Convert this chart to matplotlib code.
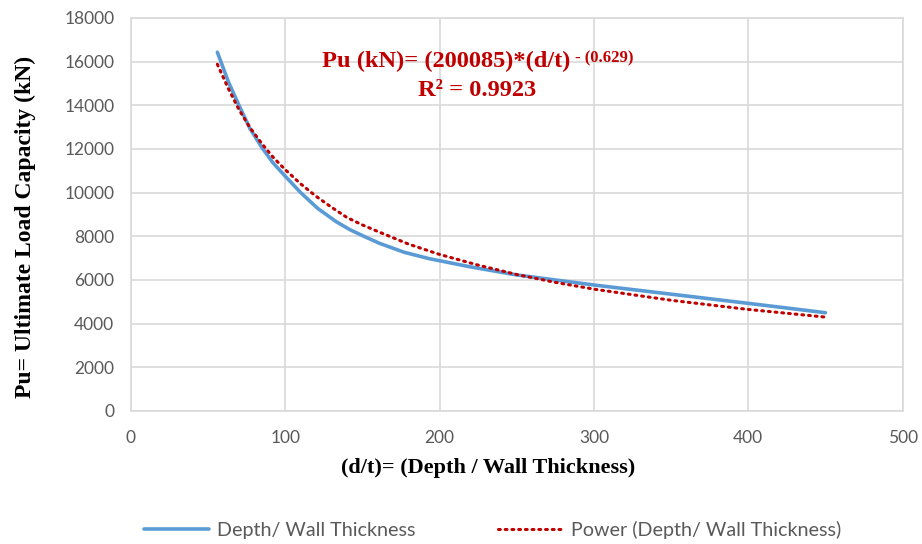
import matplotlib.pyplot as plt

# Depth / wall thickness ratio vs ultimate load
dt_blue = [56, 63, 70, 77, 85, 92, 100, 110, 121, 133, 142, 151, 161, 177, 193, 220, 250, 300, 350, 400, 450]
pu_blue = [16430, 15100, 14000, 12950, 12050, 11370, 10750, 10000, 9280, 8670, 8300, 8000, 7680, 7270, 6980, 6600, 6230, 5770, 5350, 4930, 4500]

# Power trendline points
dt_red = [56, 63, 70, 77, 85, 92, 100, 110, 120, 130, 140, 150, 160, 180, 200, 225, 250, 275, 300, 350, 400, 450]
pu_red = [15880, 14780, 13800, 12990, 12230, 11630, 11050, 10400, 9830, 9330, 8860, 8520, 8220, 7640, 7170, 6680, 6250, 5890, 5580, 5070, 4650, 4300]

fig = plt.figure(figsize=(9.22, 5.44), dpi=100)
ax = fig.add_axes([0.142, 0.2445, 0.837, 0.7225])

ax.plot(dt_blue, pu_blue, color='#5B9BD5', lw=2.6, solid_capstyle='round',
        solid_joinstyle='round', label='Depth/ Wall Thickness')
ax.plot(dt_red, pu_red, color='#C00000', lw=2.2, linestyle=(0, (0.6, 1.6)),
        dash_capstyle='round', label='Power (Depth/ Wall Thickness)')

ax.set_xlim(0, 500)
ax.set_ylim(0, 18000)
ax.set_xticks(range(0, 501, 100))
ax.set_yticks(range(0, 18001, 2000))
ax.grid(True, color='#D9D9D9', lw=1.2)
ax.set_axisbelow(True)
for s in ax.spines.values():
    s.set_color('#D9D9D9')
    s.set_linewidth(1.2)
ax.tick_params(length=0, labelsize=12.5, labelcolor='#595959')
ax.tick_params(axis='x', pad=14)
ax.tick_params(axis='y', pad=12)
for t in ax.get_xticklabels() + ax.get_yticklabels():
    t.set_family('Lato')

fig.text(488 / 922, 1 - 468 / 544, '(d/t)= (Depth / Wall Thickness)',
         family='Liberation Serif', fontweight='bold', fontsize=16,
         ha='center', va='center')
fig.text(25 / 922, 1 - 227 / 544, 'Pu= Ultimate Load Capacity (kN)',
         family='Liberation Serif', fontweight='bold', fontsize=17,
         ha='center', va='center', rotation=90)

eq = ax.text(124, 16030, 'Pu (kN)= (200085)*(d/t)', color='#C00000',
             family='Liberation Serif', fontweight='bold', fontsize=17.6,
             ha='left', va='center')
ax.annotate('- (0.629)', xy=(1, 1), xycoords=eq, xytext=(3, 0),
            textcoords='offset points', ha='left', va='top', color='#C00000',
            family='Liberation Serif', fontweight='bold', fontsize=12)
ax.text(224, 14700, 'R² = 0.9923', color='#C00000', family='Liberation Serif',
        fontweight='bold', fontsize=17.6, ha='center', va='center')

leg = fig.legend(loc='center', bbox_to_anchor=(0.534, 0.026), ncol=2,
                 frameon=False, handlelength=3.3, columnspacing=4.2,
                 handletextpad=0.4, prop={'family': 'Lato', 'size': 14.2})
for t in leg.get_texts():
    t.set_color('#595959')

fig.savefig('out.png', dpi=100)
